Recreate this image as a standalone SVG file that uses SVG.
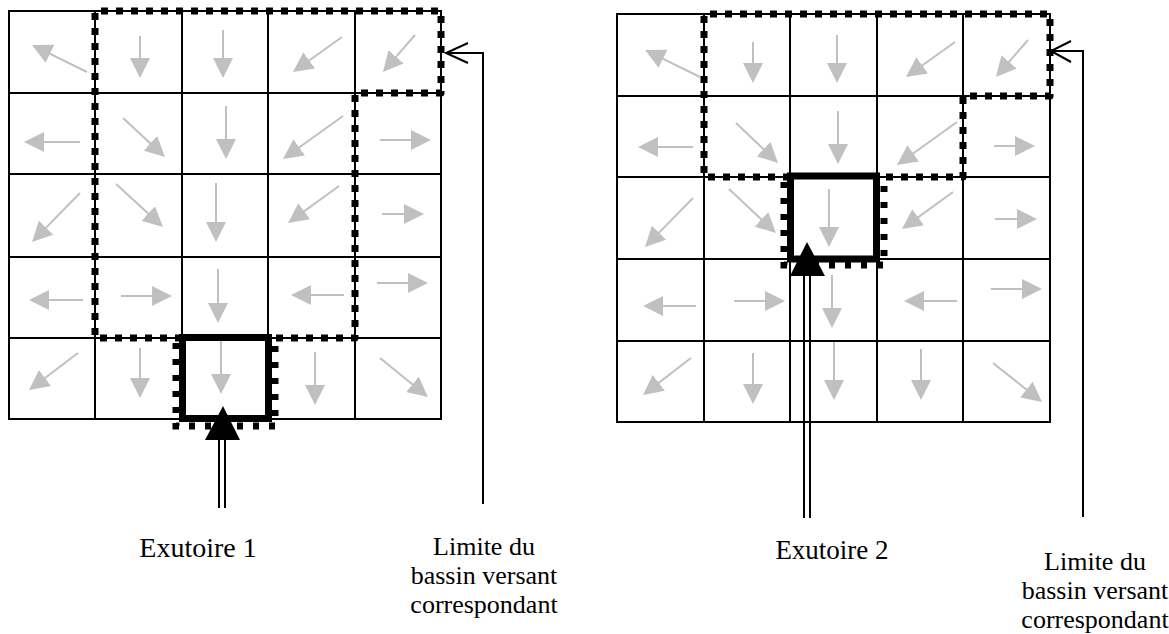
<svg xmlns="http://www.w3.org/2000/svg" width="1169" height="634" viewBox="0 0 1169 634">
<style>
.grid{fill:none;stroke:#000;stroke-width:2}
.flow{stroke:#c0c0c0;stroke-width:2;fill:none;marker-end:url(#ah)}
.bound{fill:none;stroke:#000;stroke-width:7;stroke-dasharray:7 8;stroke-linejoin:round}
.outlet{fill:none;stroke:#000;stroke-width:7}
.teeth{fill:none;stroke:#000;stroke-width:7;stroke-dasharray:6 10}
.shaft{stroke:#000;stroke-width:2}
.thin{fill:none;stroke:#000;stroke-width:2}
.lbl{font-family:"Liberation Serif","Times New Roman",serif;font-size:26px;fill:#000;text-anchor:middle}
</style>
<defs>
<marker id="ah" markerUnits="userSpaceOnUse" markerWidth="20" markerHeight="20" refX="10" refY="10" orient="auto" viewBox="0 0 20 20">
<path d="M0,0 L20,10 L0,20 z" fill="#c0c0c0"/>
</marker>
</defs>
<rect width="1169" height="634" fill="#fff"/>

<g id="grid1">
<rect class="grid" x="9" y="11" width="432" height="408"/>
<path class="grid" d="M95,11V419M182,11V419M268,11V419M355,11V419M9,93H441M9,174H441M9,257H441M9,338H441"/>
<line class="flow" x1="87" y1="72" x2="41" y2="49.4"/>
<line class="flow" x1="140" y1="36" x2="140" y2="68"/>
<line class="flow" x1="223" y1="30" x2="223" y2="68"/>
<line class="flow" x1="342" y1="37" x2="301.1" y2="66.2"/>
<line class="flow" x1="415" y1="35" x2="389.5" y2="64.4"/>
<line class="flow" x1="80" y1="142" x2="34" y2="142"/>
<line class="flow" x1="123" y1="118" x2="157.7" y2="150.2"/>
<line class="flow" x1="226" y1="106" x2="226" y2="149"/>
<line class="flow" x1="343" y1="116" x2="291.1" y2="153.2"/>
<line class="flow" x1="380" y1="140" x2="421" y2="140"/>
<line class="flow" x1="80" y1="193" x2="39" y2="234.9"/>
<line class="flow" x1="116" y1="184" x2="155.6" y2="220.2"/>
<line class="flow" x1="216" y1="183" x2="216" y2="232"/>
<line class="flow" x1="339" y1="186" x2="296.1" y2="217.1"/>
<line class="flow" x1="382" y1="214" x2="414" y2="214"/>
<line class="flow" x1="83" y1="300" x2="39" y2="300"/>
<line class="flow" x1="121" y1="296" x2="162" y2="296"/>
<line class="flow" x1="218" y1="269" x2="218" y2="313"/>
<line class="flow" x1="344" y1="295" x2="301" y2="295"/>
<line class="flow" x1="377" y1="283" x2="418" y2="283"/>
<line class="flow" x1="78" y1="353" x2="37" y2="384"/>
<line class="flow" x1="140" y1="348" x2="140" y2="388"/>
<line class="flow" x1="221" y1="340" x2="221" y2="384"/>
<line class="flow" x1="315" y1="352" x2="315" y2="395"/>
<line class="flow" x1="380" y1="358" x2="420.2" y2="390.7"/>
</g>

<g id="grid2">
<rect class="grid" x="617" y="14" width="433" height="408"/>
<path class="grid" d="M704,14V422M790,14V422M877,14V422M963,14V422M617,96H1050M617,177H1050M617,259H1050M617,341H1050"/>
<line class="flow" x1="700" y1="77" x2="654" y2="54.4"/>
<line class="flow" x1="753" y1="42" x2="753" y2="73"/>
<line class="flow" x1="837" y1="35" x2="837" y2="73"/>
<line class="flow" x1="955" y1="42" x2="914.1" y2="71.2"/>
<line class="flow" x1="1028" y1="40" x2="1002.5" y2="69.4"/>
<line class="flow" x1="693" y1="147" x2="648" y2="147"/>
<line class="flow" x1="736" y1="123" x2="770.8" y2="156.1"/>
<line class="flow" x1="838" y1="111" x2="838" y2="154"/>
<line class="flow" x1="957" y1="122" x2="905.1" y2="159.2"/>
<line class="flow" x1="994" y1="146" x2="1025" y2="146"/>
<line class="flow" x1="693" y1="198" x2="652" y2="239.9"/>
<line class="flow" x1="729" y1="189" x2="768.7" y2="226.2"/>
<line class="flow" x1="829" y1="189" x2="829" y2="237"/>
<line class="flow" x1="953" y1="192" x2="910.1" y2="223.1"/>
<line class="flow" x1="995" y1="219" x2="1027" y2="219"/>
<line class="flow" x1="696" y1="306" x2="653" y2="306"/>
<line class="flow" x1="734" y1="301" x2="775" y2="301"/>
<line class="flow" x1="832" y1="275" x2="832" y2="318"/>
<line class="flow" x1="957" y1="301" x2="914" y2="301"/>
<line class="flow" x1="991" y1="289" x2="1032" y2="289"/>
<line class="flow" x1="691" y1="358" x2="650.9" y2="388.9"/>
<line class="flow" x1="753" y1="353" x2="753" y2="394"/>
<line class="flow" x1="834" y1="342" x2="834" y2="390"/>
<line class="flow" x1="921" y1="349" x2="921" y2="390"/>
<line class="flow" x1="993" y1="363" x2="1034.2" y2="395.8"/>
</g>

<g id="basin1">
<path class="bound" d="M182,338H95V11H441V93H355V338H268"/>
<rect class="outlet" x="182.5" y="337.5" width="86" height="81"/>
<path class="teeth" d="M176,343V426H275V343"/>
</g>

<g id="basin2">
<path class="bound" d="M790,177H704V14H1050V96H963V177H877"/>
<rect class="outlet" x="790.5" y="176" width="86" height="83"/>
<path class="teeth" d="M784,182V265H884V182"/>
</g>

<g id="connectors">
<line class="shaft" x1="219" y1="438" x2="219" y2="508"/>
<line class="shaft" x1="225" y1="438" x2="225" y2="508"/>
<polygon points="223,406 205,440 240,440" fill="#000"/>
<line class="shaft" x1="804" y1="274" x2="804" y2="518"/>
<line class="shaft" x1="810" y1="274" x2="810" y2="518"/>
<polygon points="807,242 790,276 825,276" fill="#000"/>
<polyline class="thin" points="483,504 483,53 446,53"/>
<polyline class="thin" points="468,43 446,53 468,63"/>
<polyline class="thin" points="1083,517 1083,51 1051,51"/>
<polyline class="thin" points="1071,41 1051,51 1071,62"/>
</g>

<g id="labels">
<text class="lbl" x="198" y="557" style="font-size:28px">Exutoire 1</text>
<text class="lbl" x="484" y="555">Limite du</text>
<text class="lbl" x="484" y="584">bassin versant</text>
<text class="lbl" x="484" y="613">correspondant</text>
<text class="lbl" x="832" y="559" style="font-size:27px">Exutoire 2</text>
<text class="lbl" x="1095" y="570">Limite du</text>
<text class="lbl" x="1095" y="599">bassin versant</text>
<text class="lbl" x="1095" y="628">correspondant</text>
</g>
</svg>
